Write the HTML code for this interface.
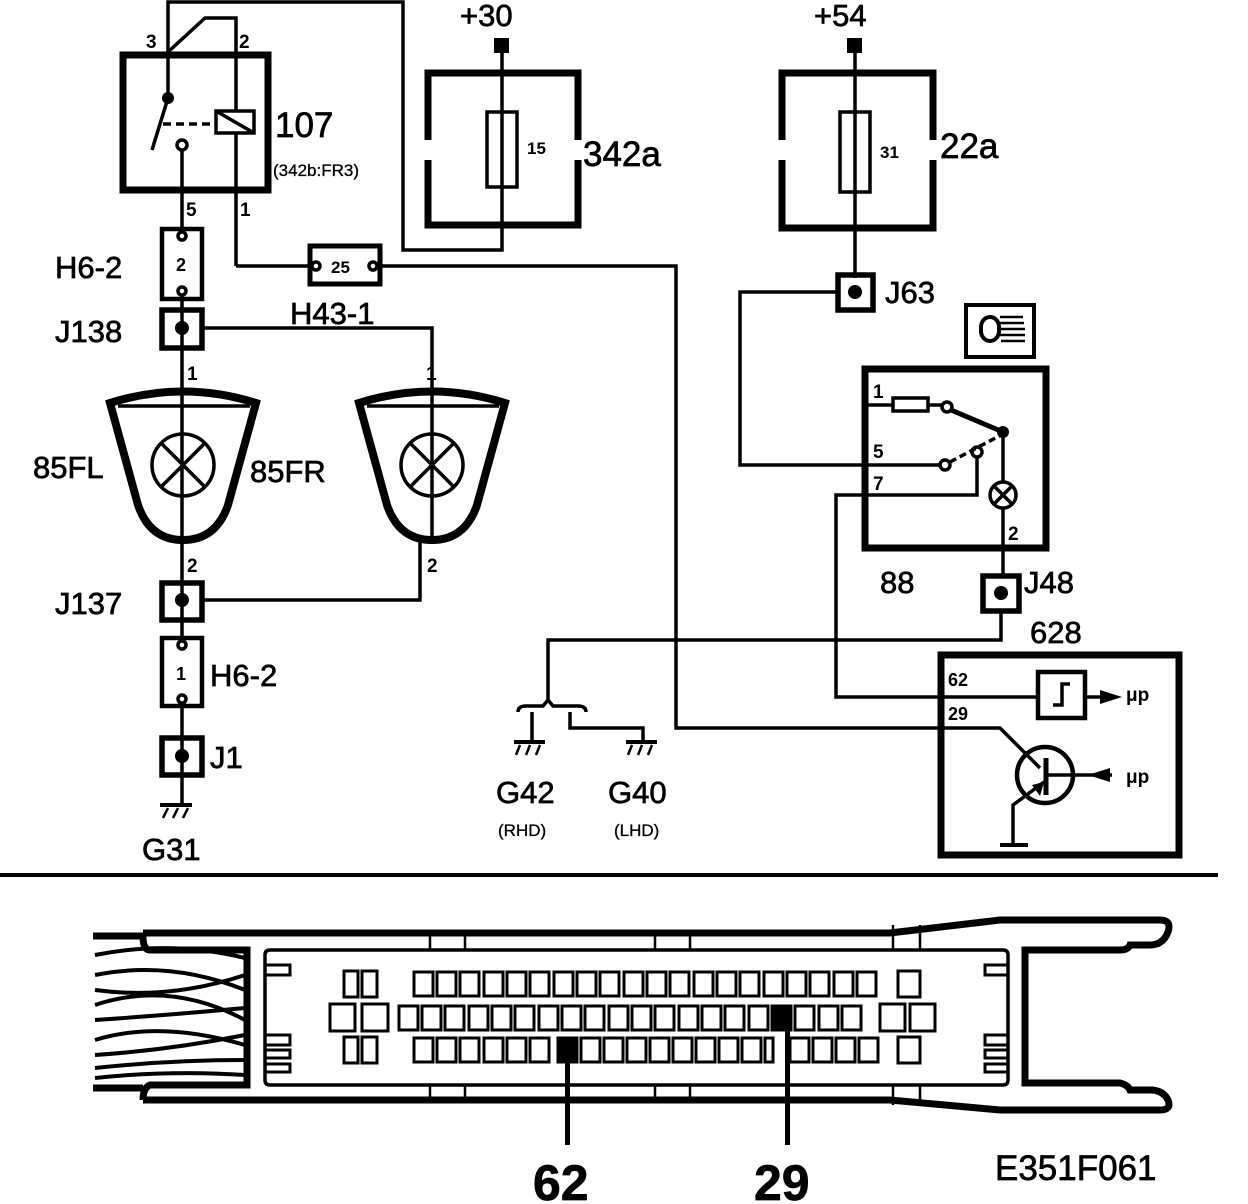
<!DOCTYPE html>
<html><head><meta charset="utf-8"><style>
html,body{margin:0;padding:0;background:#fff}
svg{display:block}
text{font-family:"Liberation Sans",sans-serif;fill:#000}
.big text{stroke:#000;stroke-width:0.7}
</style></head><body>
<svg width="1248" height="1204" viewBox="0 0 1248 1204" xmlns="http://www.w3.org/2000/svg">
<g fill="none" stroke="#000" stroke-width="3.5">
<!-- Relay 107 -->
<rect x="123" y="55" width="145" height="135" stroke-width="7"/>
<polyline points="168,98 168,2 403,2 403,250 502,250 502,45"/>
<polyline points="168,52 205,18 236,18 236,110"/>
<rect x="216" y="111" width="38" height="22"/>
<line x1="216" y1="111" x2="254" y2="133"/>
<line x1="236" y1="133" x2="236" y2="266"/>
<polyline points="236,266 310,266"/>
<line x1="168" y1="98" x2="152" y2="150"/>
<line x1="163" y1="124" x2="214" y2="124" stroke-dasharray="8,5"/>
<circle cx="182" cy="145" r="5"/>
<line x1="182" y1="150" x2="182" y2="231"/>
<!-- fuse boxes -->
<path d="M428,140 V73 H578 V140 M578,160 V225 H428 V160" stroke-width="7"/>
<rect x="487" y="112" width="30" height="75"/>
<path d="M782,140 V73 H933 V140 M933,160 V228 H782 V160" stroke-width="7"/>
<rect x="840" y="112" width="30" height="80"/>
<line x1="855" y1="45" x2="855" y2="278"/>
<!-- H43-1 -->
<rect x="310" y="246" width="70" height="38" stroke-width="5"/>
<circle cx="316" cy="266" r="4"/>
<circle cx="373" cy="266" r="4"/>
<polyline points="378,266 676,266 676,728 1000,728 1040,768"/>
<!-- H6-2 upper, J138 -->
<rect x="162" y="229" width="40" height="70" stroke-width="4.5"/>
<circle cx="182" cy="236" r="4"/>
<circle cx="182" cy="291" r="4"/>
<rect x="162" y="310" width="40" height="38" stroke-width="5.5"/>
<line x1="182" y1="296" x2="182" y2="638"/>
<polyline points="202,328 432,328 432,540"/>
<!-- lamps -->
<path d="M110,403 L138,505 Q150,540 183,540 Q216,540 228,505 L256,403 Q183,380 110,403 Z" stroke-width="8"/>
<line x1="118" y1="406" x2="250" y2="406"/>
<circle cx="183" cy="465" r="31"/>
<line x1="161" y1="443" x2="205" y2="487"/><line x1="205" y1="443" x2="161" y2="487"/>
<path d="M359,403 L387,505 Q399,540 432,540 Q465,540 477,505 L505,403 Q432,380 359,403 Z" stroke-width="8"/>
<line x1="367" y1="406" x2="499" y2="406"/>
<circle cx="432" cy="465" r="31"/>
<line x1="410" y1="443" x2="454" y2="487"/><line x1="454" y1="443" x2="410" y2="487"/>
<!-- J137 -->
<rect x="162" y="583" width="40" height="37" stroke-width="5.5"/>
<polyline points="202,600 420,600 420,540"/>
<rect x="162" y="638" width="40" height="68" stroke-width="4.5"/>
<circle cx="182" cy="645" r="4"/>
<circle cx="182" cy="699" r="4"/>
<line x1="182" y1="704" x2="182" y2="805"/>
<rect x="162" y="738" width="40" height="37" stroke-width="5.5"/>
<line x1="160" y1="805" x2="192" y2="805" stroke-width="4"/>
<line x1="168" y1="808" x2="163" y2="818" stroke-width="2.5"/><line x1="178" y1="808" x2="173" y2="818" stroke-width="2.5"/><line x1="188" y1="808" x2="183" y2="818" stroke-width="2.5"/>
<!-- J63 -->
<rect x="838" y="275" width="35" height="35" stroke-width="5.5"/>
<polyline points="838,292 740,292 740,465 940,465"/>
<!-- icon box -->
<rect x="966" y="305" width="68" height="52" stroke-width="4"/>
<!-- 88 -->
<rect x="865" y="369" width="181" height="179" stroke-width="7"/>
<line x1="865" y1="405" x2="893" y2="405"/>
<rect x="893" y="398" width="35" height="13"/>
<line x1="928" y1="405" x2="942" y2="405"/>
<circle cx="947" cy="407" r="5"/>
<line x1="951" y1="410" x2="1003" y2="432" stroke-width="5"/>
<circle cx="945" cy="465" r="5"/>
<line x1="950" y1="462" x2="1003" y2="434" stroke-dasharray="7,4"/>
<circle cx="977" cy="452" r="5"/>
<polyline points="977,457 977,495 836,495 836,697 1038,697"/>
<line x1="1003" y1="432" x2="1003" y2="482"/>
<circle cx="1003" cy="495" r="13"/>
<line x1="994" y1="486" x2="1012" y2="504"/><line x1="1012" y1="486" x2="994" y2="504"/>
<line x1="1003" y1="508" x2="1003" y2="578"/>
<rect x="983" y="576" width="36" height="35" stroke-width="5.5"/>
<polyline points="1001,611 1001,640 548,640 548,700"/>
<path d="M518,712 Q518,706 526,706 H543 L548,700 L553,706 H578 Q586,706 586,712"/>
<polyline points="532,712 532,740"/>
<polyline points="570,712 570,728 643,728 643,740"/>
<line x1="514" y1="742" x2="545" y2="742" stroke-width="4"/>
<line x1="520" y1="745" x2="516" y2="755" stroke-width="2.5"/><line x1="530" y1="745" x2="526" y2="755" stroke-width="2.5"/><line x1="540" y1="745" x2="536" y2="755" stroke-width="2.5"/>
<line x1="626" y1="742" x2="657" y2="742" stroke-width="4"/>
<line x1="632" y1="745" x2="628" y2="755" stroke-width="2.5"/><line x1="642" y1="745" x2="638" y2="755" stroke-width="2.5"/><line x1="652" y1="745" x2="648" y2="755" stroke-width="2.5"/>
<!-- 628 -->
<rect x="941" y="655" width="238" height="200" stroke-width="7"/>
<rect x="1038" y="672" width="47" height="46" stroke-width="4.5"/>
<polyline points="1053,705 1062,705 1062,684 1070,684"/>
<line x1="1085" y1="697" x2="1100" y2="697"/>
<circle cx="1045" cy="775" r="28" stroke-width="4.5"/>
<line x1="1046" y1="758" x2="1046" y2="795" stroke-width="5"/>
<line x1="1046" y1="775" x2="1112" y2="775"/>
<polyline points="1044,782 1013,805 1013,845"/>
<line x1="1000" y1="845" x2="1028" y2="845" stroke-width="4"/>
<!-- separator -->
<line x1="0" y1="875" x2="1218" y2="875" stroke-width="4"/>
<!-- connector -->
<path d="M143,933 H890 L1000,920 H1160 Q1172,920 1168,932 Q1163,945 1150,945 H1130 Q1128,950 1120,950 H1025 V1083 H1120 Q1128,1085 1130,1090 H1150 Q1163,1090 1168,1100 Q1172,1110 1160,1110 H1000 L890,1100 H143" stroke-width="7"/>
<path d="M93,936 H143 Q143,950 150,950 H247 V1085 H150 Q143,1088 143,1100 M93,1088 H143" stroke-width="7"/>
<path d="M270,950 H1003 Q1008,950 1008,955 V1080 Q1008,1085 1003,1085 H270 Q265,1085 265,1080 V955 Q265,950 270,950 Z" stroke-width="3.5"/>
<path d="M265,965 H290 V975 H265 M265,1035 H290 V1045 H265 M265,1050 H290 V1058 H265 M265,1064 H290 V1072 H265" stroke-width="3"/>
<path d="M1008,965 H985 V975 H1008 M1008,1035 H985 V1045 H1008 M1008,1050 H985 V1058 H1008 M1008,1064 H985 V1072 H1008" stroke-width="3"/>
<path d="M430,933 V950 M465,933 V950 M655,933 V950 M690,933 V950 M430,1085 V1100 M465,1085 V1100 M655,1085 V1100 M690,1085 V1100 M893,925 V950 M920,925 V950 M893,1085 V1105 M920,1085 V1105" stroke-width="2.5"/>
<path d="M95,955 Q170,940 245,958 M95,975 Q170,960 245,990 M95,990 Q170,1000 245,975 M95,1005 Q170,980 245,1020 M95,1020 Q170,1015 245,1008 M95,1040 Q160,1020 245,1045 M95,1055 Q170,1050 245,1035 M95,1068 Q170,1060 245,1060 M95,1078 Q170,1070 245,1075" stroke-width="4"/>
</g>
<g fill="none" stroke="#000" stroke-width="3">
<rect x="344" y="971" width="14" height="26"/><rect x="362" y="971" width="15" height="26"/>
<rect x="330" y="1004" width="25" height="27"/><rect x="362" y="1004" width="26" height="27"/>
<rect x="344" y="1037" width="14" height="26"/><rect x="362" y="1037" width="15" height="26"/>
<rect x="898" y="971" width="22" height="26"/>
<rect x="880" y="1004" width="25" height="27"/><rect x="910" y="1004" width="25" height="27"/>
<rect x="898" y="1037" width="22" height="26"/>
</g>
<g fill="#000">
<rect x="494" y="38" width="15" height="15"/>
<rect x="847" y="38" width="15" height="15"/>
<circle cx="168" cy="98" r="6"/>
<circle cx="182" cy="328" r="7"/><circle cx="182" cy="600" r="7"/><circle cx="182" cy="756" r="7"/>
<circle cx="855" cy="292" r="7"/><circle cx="1001" cy="593" r="7"/>
<circle cx="1003" cy="432" r="6"/>
<polygon points="1100,690 1122,697 1100,704"/>
<polygon points="1110,768 1088,775 1110,782"/>
<polygon points="1032,785 1044,782 1040,796"/>
<rect x="981" y="317" width="18" height="24" rx="10" fill="none" stroke="#000" stroke-width="4"/>
<path d="M1000,317 h23 M1000,323 h24 M1000,329 h25 M1000,335 h25 M1001,341 h24" stroke="#000" stroke-width="2.5"/>
<rect x="565" y="1062" width="5" height="83"/>
<rect x="785" y="1030" width="5" height="115"/>
</g>
<g font-size="31" class="big">
<text x="55" y="278">H6-2</text>
<text x="55" y="342">J138</text>
<text x="290" y="324">H43-1</text>
<text x="33" y="478">85FL</text>
<text x="250" y="482">85FR</text>
<text x="55" y="614">J137</text>
<text x="210" y="686">H6-2</text>
<text x="210" y="768">J1</text>
<text x="142" y="860">G31</text>
<text x="275" y="137" font-size="35">107</text>
<text x="460" y="26">+30</text>
<text x="583" y="166" font-size="35">342a</text>
<text x="814" y="26">+54</text>
<text x="940" y="158" font-size="35">22a</text>
<text x="885" y="303">J63</text>
<text x="880" y="593">88</text>
<text x="1024" y="593">J48</text>
<text x="1030" y="643">628</text>
<text x="496" y="803">G42</text>
<text x="608" y="803">G40</text>
<text x="995" y="1180" font-size="35">E351F061</text>
<text x="533" y="1200" font-size="50" font-weight="bold">62</text>
<text x="754" y="1200" font-size="50" font-weight="bold">29</text>
</g>
<g font-size="17" font-weight="bold">
<text x="273" y="176" font-weight="normal" stroke="#000" stroke-width="0.3">(342b:FR3)</text>
<text x="498" y="836" font-weight="normal" stroke="#000" stroke-width="0.3">(RHD)</text>
<text x="614" y="836" font-weight="normal" stroke="#000" stroke-width="0.3">(LHD)</text>
<text x="146" y="48" font-size="19">3</text>
<text x="239" y="48" font-size="19">2</text>
<text x="186" y="216" font-size="19">5</text>
<text x="240" y="216" font-size="19">1</text>
<text x="176" y="271" font-size="18">2</text>
<text x="176" y="680" font-size="18">1</text>
<text x="331" y="273">25</text>
<text x="527" y="154">15</text>
<text x="880" y="158">31</text>
<text x="187" y="380" font-size="19">1</text>
<text x="426" y="380" font-size="19">1</text>
<text x="187" y="572" font-size="19">2</text>
<text x="427" y="572" font-size="19">2</text>
<text x="873" y="398" font-size="19">1</text>
<text x="873" y="458" font-size="19">5</text>
<text x="873" y="490" font-size="19">7</text>
<text x="1008" y="540" font-size="19">2</text>
<text x="948" y="686" font-size="18">62</text>
<text x="948" y="720" font-size="18">29</text>
<text x="1126" y="701" font-size="19">μp</text>
<text x="1126" y="783" font-size="19">μp</text>
</g>
<g fill="none" stroke="#000" stroke-width="3">
<rect x="414" y="972" width="19" height="24"/><rect x="437" y="972" width="19" height="24"/><rect x="460" y="972" width="19" height="24"/><rect x="484" y="972" width="19" height="24"/><rect x="507" y="972" width="19" height="24"/><rect x="530" y="972" width="19" height="24"/><rect x="554" y="972" width="19" height="24"/><rect x="577" y="972" width="19" height="24"/><rect x="600" y="972" width="19" height="24"/><rect x="624" y="972" width="19" height="24"/><rect x="647" y="972" width="19" height="24"/><rect x="670" y="972" width="19" height="24"/><rect x="694" y="972" width="19" height="24"/><rect x="717" y="972" width="19" height="24"/><rect x="740" y="972" width="19" height="24"/><rect x="764" y="972" width="19" height="24"/><rect x="787" y="972" width="19" height="24"/><rect x="810" y="972" width="19" height="24"/><rect x="834" y="972" width="19" height="24"/><rect x="857" y="972" width="19" height="24"/>
<rect x="399" y="1006" width="19" height="24"/><rect x="422" y="1006" width="19" height="24"/><rect x="445" y="1006" width="19" height="24"/><rect x="469" y="1006" width="19" height="24"/><rect x="492" y="1006" width="19" height="24"/><rect x="515" y="1006" width="19" height="24"/><rect x="539" y="1006" width="19" height="24"/><rect x="562" y="1006" width="19" height="24"/><rect x="585" y="1006" width="19" height="24"/><rect x="609" y="1006" width="19" height="24"/><rect x="632" y="1006" width="19" height="24"/><rect x="655" y="1006" width="19" height="24"/><rect x="679" y="1006" width="19" height="24"/><rect x="702" y="1006" width="19" height="24"/><rect x="725" y="1006" width="19" height="24"/><rect x="749" y="1006" width="19" height="24"/><rect x="772" y="1006" width="19" height="24" fill="#000"/><rect x="795" y="1006" width="19" height="24"/><rect x="819" y="1006" width="19" height="24"/><rect x="842" y="1006" width="19" height="24"/>
<rect x="414" y="1038" width="19" height="24"/><rect x="437" y="1038" width="19" height="24"/><rect x="460" y="1038" width="19" height="24"/><rect x="484" y="1038" width="19" height="24"/><rect x="507" y="1038" width="19" height="24"/><rect x="530" y="1038" width="19" height="24"/><rect x="558" y="1038" width="19" height="24" fill="#000"/><rect x="581" y="1038" width="19" height="24"/><rect x="604" y="1038" width="19" height="24"/><rect x="627" y="1038" width="19" height="24"/><rect x="650" y="1038" width="19" height="24"/><rect x="673" y="1038" width="19" height="24"/><rect x="696" y="1038" width="19" height="24"/><rect x="719" y="1038" width="19" height="24"/><rect x="742" y="1038" width="19" height="24"/><rect x="765" y="1038" width="8" height="24"/><rect x="790" y="1038" width="19" height="24"/><rect x="813" y="1038" width="19" height="24"/><rect x="836" y="1038" width="19" height="24"/><rect x="859" y="1038" width="19" height="24"/>
</g>
</svg>
</body></html>
